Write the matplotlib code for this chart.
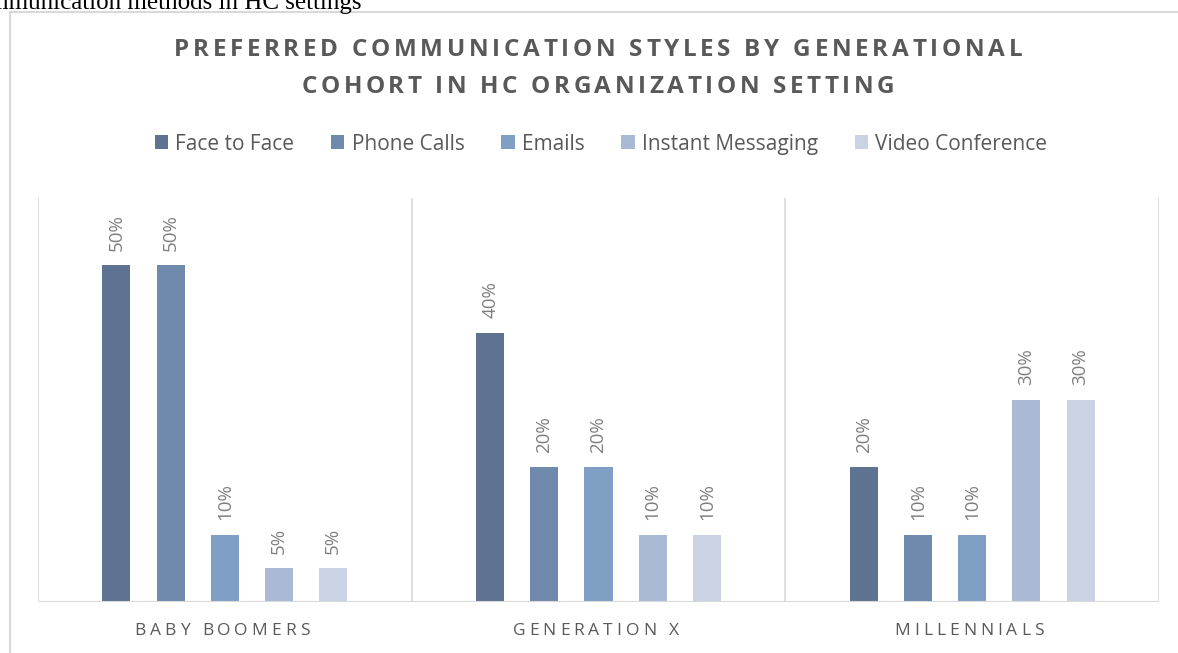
import matplotlib
matplotlib.use('Agg')
import matplotlib.pyplot as plt
from matplotlib.patches import Rectangle
from matplotlib.font_manager import FontProperties
import numpy as np

# Data
cohorts = ['BABY BOOMERS', 'GENERATION X', 'MILLENNIALS']
styles = ['Face to Face', 'Phone Calls', 'Emails', 'Instant Messaging', 'Video Conference']
face_to_face = [50, 40, 20]
phone_calls = [50, 20, 10]
emails = [10, 20, 10]
instant_messaging = [5, 10, 30]
video_conference = [5, 10, 30]
series = [face_to_face, phone_calls, emails, instant_messaging, video_conference]
colors = ['#5E7391', '#6F8AAD', '#7F9FC4', '#AABAD4', '#C9D3E3']

W, H = 1178, 653
fig = plt.figure(figsize=(W / 100, H / 100), dpi=100)
fig.patch.set_facecolor('white')
renderer = fig.canvas.get_renderer()

FONT = 'Open Sans'
GRAY = '#595959'


def px(x, y):
    # pixel coords (from top-left) to figure fraction
    return x / W, 1 - y / H


def spaced_text(cx, y, s, size, width, weight='normal', color=GRAY):
    # letter-spaced text, centred on cx, stretched to a given pixel width
    fp = FontProperties(family=FONT, size=size, weight=weight)
    widths = [renderer.get_text_width_height_descent(c, fp, ismath=False)[0] for c in s]
    gap = (width - sum(widths)) / (len(s) - 1)
    x = cx - width / 2
    for c, w in zip(s, widths):
        fx, fy = px(x, y)
        fig.text(fx, fy, c, fontproperties=fp, color=color, ha='left', va='center')
        x += w + gap


# leftover document text above the chart (cropped in the original)
fx, fy = px(362, 9)
fig.text(fx, fy, 'Communication methods in HC settings', family='Liberation Serif',
         fontsize=18, color='black', ha='right', va='baseline')

# chart frame
fx, fy = px(10, 12)
fig.patches.append(Rectangle((fx, -0.1), 1.2, fy + 0.1, transform=fig.transFigure,
                             facecolor='none', edgecolor='#D9D9D9', linewidth=1.5))

# title
spaced_text(598, 50, 'PREFERRED COMMUNICATION STYLES BY GENERATIONAL', 17.5, 848, weight='bold')
spaced_text(598, 87, 'COHORT IN HC ORGANIZATION SETTING', 17.5, 593, weight='bold')

# plot area
left, right, top, bottom = 38, 1159, 198, 602
ax = fig.add_axes([left / W, 1 - bottom / H, (right - left) / W, (bottom - top) / H])
ax.set_xlim(0, 3)
ax.set_ylim(0, 60)

step = 0.145
bw = 0.075
for k, (vals, col, name) in enumerate(zip(series, colors, styles)):
    xs = np.arange(3) + 0.5 + (k - 2) * step
    ax.bar(xs, vals, width=bw, color=col, label=name, zorder=3)
    for x, v in zip(xs, vals):
        ax.text(x, v + 2.2, f'{v}%', rotation=90, ha='center', va='bottom',
                fontsize=13.5, color='#7F7F7F', family=FONT)

for s in ax.spines.values():
    s.set_visible(False)
for xg in range(4):
    ax.axvline(xg, color='#D9D9D9', linewidth=1.2, zorder=1)
ax.axhline(0, color='#D9D9D9', linewidth=1.5, zorder=4)
ax.set_xticks([])
ax.set_yticks([])

# category labels
for i, c in enumerate(cohorts):
    cx = left + (i + 0.5) * (right - left) / 3
    spaced_text(cx - 3, 631, c, 12.5, [175, 166, 149][i])

# legend
fx, fy = px(601, 144)
leg = fig.legend(loc='center', bbox_to_anchor=(fx, fy), ncol=5, frameon=False,
                 handlelength=0.65, handleheight=0.65, handletextpad=0.35,
                 columnspacing=1.75, prop=FontProperties(family=FONT, size=15))
for t in leg.get_texts():
    t.set_color(GRAY)

fig.savefig('out.png', dpi=100)
